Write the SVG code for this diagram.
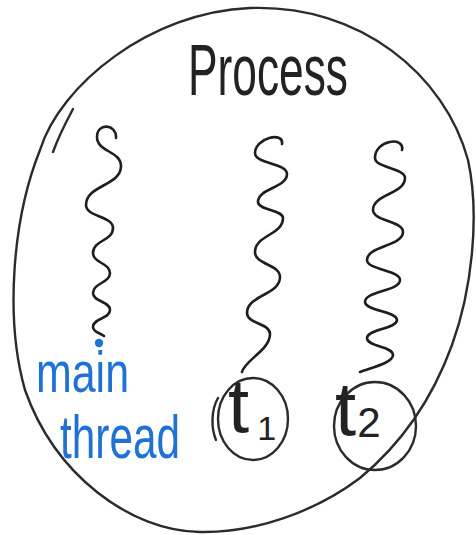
<svg xmlns="http://www.w3.org/2000/svg" width="476" height="535" viewBox="0 0 476 535">
<style>
.ink{fill:none;stroke:#2b2b2b;stroke-width:2.4;stroke-linecap:round;stroke-linejoin:round}
.wave{fill:none;stroke:#1e1e1e;stroke-width:2.6;stroke-linecap:round;stroke-linejoin:round}
.hand{font-family:"Liberation Sans","DejaVu Sans",sans-serif;fill:#222}
.blue{font-family:"Liberation Sans","DejaVu Sans",sans-serif;fill:#1f72d4}
</style>
<rect width="476" height="535" fill="#ffffff"/>
<g id="process">
<path class="ink" d="M250,8 C360,4 445,75 468,160 C480,215 472,290 452,345 C432,400 400,445 360,478 C315,512 255,533 200,532 C130,531 55,475 25,390 C5,320 12,220 40,150 C60,85 150,12 250,8 Z"/>
<path class="ink" d="M73,109 C66,122 58,138 53,152"/>
<text class="hand" x="188" y="95" font-size="72" textLength="160" lengthAdjust="spacingAndGlyphs">Process</text>
</g>
<g id="main-thread">
<path class="wave" d="M116,138 C117,124 97,122 97,137 C97,152 121,151 121,166 C121,186 86,185 86,205 C86,217 113,216 113,228 C113,241 93,240 93,253 C93,263 110,263 110,273 C110,283 93,283 93,293 C93,302 110,301 110,310 C110,319 93,318 93,327 C93,332 100,333 104,336"/>
<circle cx="99" cy="343" r="4.2" fill="#1f72d4"/>
<text class="blue" x="36" y="392" font-size="58" textLength="93" lengthAdjust="spacingAndGlyphs">main</text>
<text class="blue" transform="translate(60,458) scale(1,1.22)" x="0" y="0" font-size="50" textLength="120" lengthAdjust="spacingAndGlyphs">thread</text>
</g>
<g id="t1">
<path class="wave" d="M282,144 C284,131 255,138 255,153 C255,164 287,163 287,174 C287,188 258,188 258,202 C258,210 283,210 283,218 C283,235 255,235 255,252 C255,265 280,264 280,277 C280,295 247,295 247,313 C247,324 270,323 270,334 C270,350 245,360 242,372"/>
<ellipse class="ink" cx="253" cy="419" rx="35" ry="41"/>
<path class="ink" d="M218,398 C211,410 211,428 216,440"/>
<text class="hand" x="228" y="432" font-size="76">t<tspan font-size="34" dx="8" dy="8">1</tspan></text>
</g>
<g id="t2">
<path class="wave" d="M402,150 C405,136 375,140 375,158 C375,168 405,168 405,178 C405,194 373,194 373,210 C373,221 403,221 403,232 C403,246 367,246 367,260 C367,270 400,270 400,280 C400,291 365,291 365,302 C365,311 397,311 397,320 C397,329 367,329 367,338 C367,347 393,346 393,355 C393,363 370,368 360,372"/>
<ellipse class="ink" cx="375" cy="426" rx="41" ry="44"/>
<text class="hand" x="335" y="435" font-size="76">t<tspan font-size="42" dx="1" dy="2">2</tspan></text>
</g>
</svg>
